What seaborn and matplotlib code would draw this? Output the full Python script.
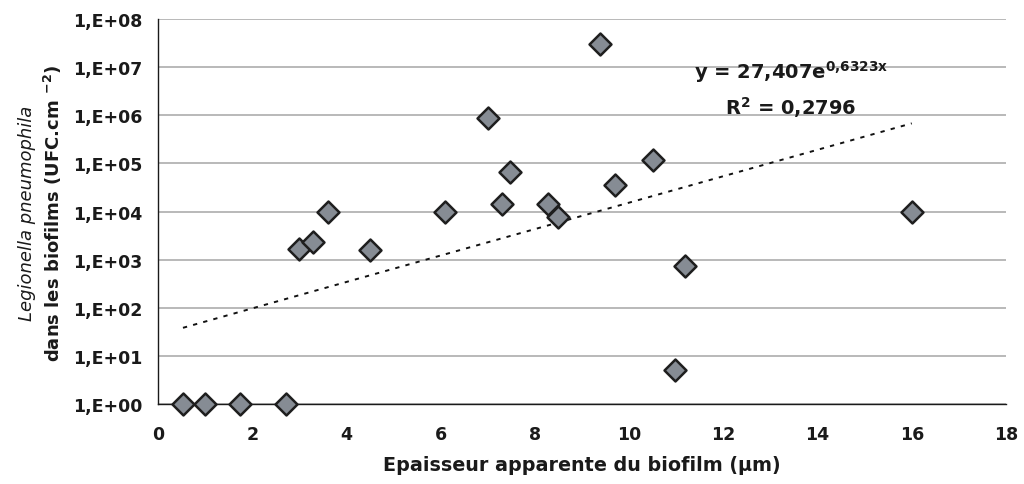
import numpy as np
import pandas as pd
import matplotlib
matplotlib.use("Agg")
import matplotlib.pyplot as plt
import seaborn as sns

# ---- data ----
thickness = [0.53, 0.99, 1.73, 2.71, 3.0, 3.3, 3.6, 4.5, 6.1, 7.0,
             7.3, 7.48, 8.28, 8.5, 9.39, 9.7, 10.5, 10.97, 11.19, 16.0]
legionella = [1, 1, 1, 1, 1.7e3, 2.3e3, 1.0e4, 1.6e3, 1.0e4, 8.7e5,
              1.4e4, 6.5e4, 1.4e4, 7.6e3, 3.0e7, 3.5e4, 1.2e5, 5, 7.3e2, 1.0e4]

# exponential trendline shown on the chart: y = a * exp(b x)
trend_a = 27.407
trend_b = 0.6323
trend_r2 = 0.2796
trend_xrange = [0.53, 16.0]

x_ticks = [0, 2, 4, 6, 8, 10, 12, 14, 16, 18]
y_ticks = [1e0, 1e1, 1e2, 1e3, 1e4, 1e5, 1e6, 1e7, 1e8]
y_tick_labels = ["1,E+00", "1,E+01", "1,E+02", "1,E+03", "1,E+04",
                 "1,E+05", "1,E+06", "1,E+07", "1,E+08"]

x_label = "Epaisseur apparente du biofilm (µm)"
y_label_1 = "Legionella pneumophila"
y_label_2 = r"dans les biofilms (UFC.cm $^{\mathbf{-2}}$)"
eq_text = r"y = 27,407e$^{\mathbf{0{,}6323x}}$"
r2_text = r"R$^{\mathbf{2}}$ = 0,2796"

# ---- styling ----
sns.set_theme(style="white")
plt.rcParams["font.family"] = ["DejaVu Sans"]
plt.rcParams["mathtext.fontset"] = "dejavusans"

TXT = "#1a1a1a"

fig = plt.figure(figsize=(10.24, 4.85), dpi=100)
ax = fig.add_axes([0.1543, 0.1649, 0.8281, 0.7939])

df = pd.DataFrame({"x": thickness, "y": legionella})

# trendline
tx = np.linspace(trend_xrange[0], trend_xrange[1], 200)
ty = trend_a * np.exp(trend_b * tx)
ax.plot(tx, ty, color="#111111", lw=1.4, linestyle=(0, (2.2, 3.2)), zorder=2)

sns.scatterplot(data=df, x="x", y="y", ax=ax, marker="D", s=125,
                color="#868c94", edgecolor="#1e1e1e", linewidth=1.8,
                zorder=4, clip_on=False)

ax.set_yscale("log")
ax.set_xlim(0, 18)
ax.set_ylim(1, 1e8)
ax.set_xticks(x_ticks)
ax.set_xticklabels([str(v) for v in x_ticks])
ax.set_yticks(y_ticks)
ax.set_yticklabels(y_tick_labels)
ax.yaxis.set_minor_locator(matplotlib.ticker.NullLocator())

ax.grid(axis="y", color="#a6a6a6", lw=1.1)
ax.grid(axis="x", visible=False)
ax.set_axisbelow(True)

for s in ["top", "right"]:
    ax.spines[s].set_visible(False)
for s in ["left", "bottom"]:
    ax.spines[s].set_color(TXT)
    ax.spines[s].set_linewidth(1.0)

ax.tick_params(axis="both", which="major", direction="out", length=5,
               width=1, color=TXT, labelsize=12.5, labelcolor=TXT)
ax.tick_params(axis="x", pad=10)
ax.tick_params(axis="y", pad=6)
for lab in ax.get_xticklabels() + ax.get_yticklabels():
    lab.set_fontweight("bold")

ax.set_xlabel(x_label, fontsize=13.8, fontweight="bold", color=TXT,
              labelpad=9)
ax.set_ylabel("")

fig.text(0.026, 0.56, y_label_1, rotation=90, ha="center", va="center",
         fontsize=13, fontstyle="italic", color=TXT)
fig.text(0.052, 0.56, y_label_2, rotation=90, ha="center", va="center",
         fontsize=13, fontweight="bold", color=TXT)

# equation annotation
ax.text(13.44, 10 ** 6.78, eq_text, ha="center", va="baseline",
        fontsize=14, fontweight="bold", color=TXT)
ax.text(13.44, 10 ** 6.03, r2_text, ha="center", va="baseline",
        fontsize=14, fontweight="bold", color=TXT)

fig.savefig("out.png", dpi=100, facecolor="white")
